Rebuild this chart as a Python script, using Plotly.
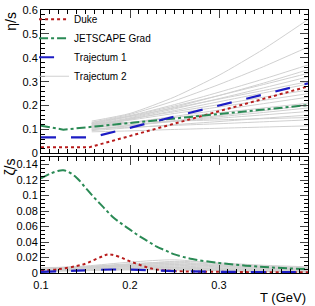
import plotly.graph_objects as go

# ---------------- data ----------------
# top panel: eta/s
duke_eta_T = [0.1, 0.154, 0.4]
duke_eta = [0.025, 0.025, 0.28]
jet_eta_T = [0.1, 0.125, 0.4]
jet_eta = [0.116, 0.099, 0.202]
traj1_eta_T = [0.1, 0.157, 0.4]
traj1_eta = [0.067, 0.067, 0.293]

traj2_eta_T = [0.157, 0.2, 0.25, 0.3, 0.35, 0.4]
traj2_eta = [
    [0.135, 0.167, 0.236, 0.327, 0.436, 0.56],
    [0.130, 0.163, 0.220, 0.288, 0.363, 0.445],
    [0.128, 0.158, 0.204, 0.256, 0.311, 0.370],
    [0.120, 0.149, 0.193, 0.242, 0.294, 0.350],
    [0.125, 0.156, 0.198, 0.242, 0.288, 0.335],
    [0.115, 0.146, 0.186, 0.229, 0.274, 0.320],
    [0.110, 0.142, 0.179, 0.216, 0.253, 0.290],
    [0.118, 0.144, 0.174, 0.204, 0.235, 0.265],
    [0.105, 0.128, 0.155, 0.181, 0.208, 0.235],
    [0.112, 0.129, 0.150, 0.170, 0.190, 0.210],
    [0.100, 0.116, 0.134, 0.153, 0.171, 0.190],
    [0.108, 0.120, 0.134, 0.147, 0.161, 0.175],
    [0.095, 0.107, 0.120, 0.133, 0.147, 0.160],
    [0.102, 0.109, 0.117, 0.124, 0.132, 0.140],
    [0.090, 0.094, 0.100, 0.105, 0.110, 0.115],
    [0.122, 0.154, 0.190, 0.227, 0.263, 0.300],
    [0.115, 0.139, 0.167, 0.194, 0.222, 0.250],
    [0.098, 0.116, 0.137, 0.158, 0.179, 0.200],
    [0.125, 0.130, 0.135, 0.140, 0.145, 0.150],
]

# bottom panel: zeta/s
duke_zeta_T = [0.1, 0.12, 0.14, 0.15, 0.16, 0.17, 0.175, 0.18, 0.19, 0.2, 0.21,
               0.22, 0.23, 0.25, 0.3, 0.35, 0.4]
duke_zeta = [0.003, 0.005, 0.009, 0.012, 0.017, 0.022, 0.024, 0.0235, 0.02, 0.015,
             0.011, 0.007, 0.0045, 0.0025, 0.0015, 0.001, 0.001]
jet_zeta_T = [0.1, 0.11, 0.12, 0.125, 0.13, 0.14, 0.15, 0.16, 0.17, 0.18, 0.19,
              0.2, 0.21, 0.22, 0.23, 0.24, 0.25, 0.27, 0.3, 0.33, 0.36, 0.4]
jet_zeta = [0.122, 0.128, 0.132, 0.1325, 0.131, 0.123, 0.11, 0.097, 0.085, 0.073,
            0.064, 0.056, 0.048, 0.041, 0.034, 0.029, 0.024, 0.018, 0.013, 0.0095,
            0.007, 0.005]
traj1_zeta_T = [0.1, 0.14, 0.18, 0.21, 0.25, 0.3, 0.4]
traj1_zeta = [0.0015, 0.003, 0.0045, 0.004, 0.0025, 0.0015, 0.001]

traj2_zeta_T = [0.1, 0.15, 0.2, 0.25, 0.3, 0.35, 0.4]
traj2_zeta = [
    [0.006, 0.009, 0.014, 0.017, 0.012, 0.009, 0.007],
    [0.005, 0.008, 0.012, 0.014, 0.011, 0.008, 0.006],
    [0.005, 0.008, 0.011, 0.012, 0.009, 0.007, 0.005],
    [0.004, 0.007, 0.010, 0.010, 0.008, 0.006, 0.005],
    [0.004, 0.006, 0.009, 0.009, 0.007, 0.005, 0.004],
    [0.003, 0.006, 0.008, 0.008, 0.006, 0.005, 0.004],
    [0.003, 0.005, 0.007, 0.007, 0.005, 0.004, 0.003],
    [0.003, 0.005, 0.006, 0.006, 0.005, 0.004, 0.003],
    [0.002, 0.004, 0.005, 0.005, 0.004, 0.003, 0.002],
    [0.002, 0.003, 0.004, 0.004, 0.003, 0.002, 0.002],
    [0.006, 0.008, 0.010, 0.013, 0.010, 0.007, 0.005],
    [0.005, 0.007, 0.009, 0.011, 0.009, 0.006, 0.004],
    [0.004, 0.007, 0.008, 0.007, 0.005, 0.003, 0.002],
    [0.003, 0.004, 0.005, 0.004, 0.003, 0.002, 0.001],
    [0.007, 0.008, 0.011, 0.015, 0.013, 0.010, 0.008],
]

x_ticks = [0.1, 0.2, 0.3, 0.4]

# ---------------- styles ----------------
RED = "#b81c1c"
GREEN = "#2a8a55"
BLUE = "#1c1cc4"
GRAY = "#d0d0d0"
FONT = "Liberation Sans, Arial, sans-serif"

fig = go.Figure()

for i, ys in enumerate(traj2_eta):
    fig.add_trace(go.Scatter(x=traj2_eta_T, y=ys, mode="lines",
                             line=dict(color=GRAY, width=1, shape="spline", smoothing=0.6),
                             name="Trajectum 2", showlegend=(i == 0), legendrank=4,
                             xaxis="x2", yaxis="y2", hoverinfo="skip"))
for ys in traj2_zeta:
    fig.add_trace(go.Scatter(x=traj2_zeta_T, y=ys, mode="lines",
                             line=dict(color=GRAY, width=1, shape="spline", smoothing=0.8),
                             showlegend=False, xaxis="x", yaxis="y", hoverinfo="skip"))

fig.add_trace(go.Scatter(x=duke_eta_T, y=duke_eta, mode="lines", name="Duke",
                         line=dict(color=RED, width=2, dash="dot"), legendrank=1,
                         xaxis="x2", yaxis="y2"))
fig.add_trace(go.Scatter(x=duke_zeta_T, y=duke_zeta, mode="lines", showlegend=False,
                         line=dict(color=RED, width=2, dash="dot", shape="spline"),
                         xaxis="x", yaxis="y"))
fig.add_trace(go.Scatter(x=jet_eta_T, y=jet_eta, mode="lines", name="JETSCAPE Grad",
                         line=dict(color=GREEN, width=2, dash="dashdot"), legendrank=2,
                         xaxis="x2", yaxis="y2"))
fig.add_trace(go.Scatter(x=jet_zeta_T, y=jet_zeta, mode="lines", showlegend=False,
                         line=dict(color=GREEN, width=2, dash="dashdot", shape="spline"),
                         xaxis="x", yaxis="y"))
fig.add_trace(go.Scatter(x=traj1_eta_T, y=traj1_eta, mode="lines", name="Trajectum 1",
                         line=dict(color=BLUE, width=2.2, dash="longdash"), legendrank=3,
                         xaxis="x2", yaxis="y2"))
fig.add_trace(go.Scatter(x=traj1_zeta_T, y=traj1_zeta, mode="lines", showlegend=False,
                         line=dict(color=BLUE, width=2.2, dash="longdash", shape="spline"),
                         xaxis="x", yaxis="y"))

axis_common = dict(showline=True, linecolor="black", linewidth=1, mirror="allticks",
                   ticks="inside", showgrid=False, zeroline=False, automargin=False,
                   tickfont=dict(family=FONT, size=11, color="black"))

fig.update_layout(
    width=315, height=306,
    margin=dict(l=41, r=7, t=5, b=33),
    paper_bgcolor="white", plot_bgcolor="white",
    font=dict(family=FONT, color="black"),
    xaxis=dict(domain=[0, 1], range=[0.1, 0.4], tickvals=x_ticks,
               ticklen=8, anchor="y", ticklabelstandoff=2,
               minor=dict(ticks="inside", dtick=0.01, ticklen=4, tickcolor="black"),
               **axis_common),
    xaxis2=dict(domain=[0, 1], range=[0.1, 0.4], tickvals=x_ticks, showticklabels=False,
                ticklen=8, anchor="y2", matches="x",
                minor=dict(ticks="inside", dtick=0.01, ticklen=4, tickcolor="black"),
                **axis_common),
    yaxis=dict(domain=[0, 0.442], range=[0, 0.15], dtick=0.02, ticklen=8,
               anchor="x",
               minor=dict(ticks="inside", dtick=0.005, ticklen=4, tickcolor="black"),
               **axis_common),
    yaxis2=dict(domain=[0.455, 1], range=[0, 0.6], dtick=0.1, ticklen=8,
                anchor="x2",
                minor=dict(ticks="inside", dtick=0.02, ticklen=4, tickcolor="black"),
                **axis_common),
    legend=dict(x=-0.026, y=1.02, xanchor="left", yanchor="top", bgcolor="rgba(0,0,0,0)",
                font=dict(family=FONT, size=10, color="black"), itemwidth=30,
                tracegroupgap=0, traceorder="normal"),
    annotations=[
        dict(text="η/s", x=-0.115, y=1.0, xref="paper", yref="paper", xanchor="center",
             yanchor="top", textangle=-90, showarrow=False,
             font=dict(family=FONT, size=14, color="black")),
        dict(text="ζ/s", x=-0.115, y=0.442, xref="paper", yref="paper", xanchor="center",
             yanchor="top", textangle=-90, showarrow=False,
             font=dict(family=FONT, size=14, color="black")),
        dict(text="T (GeV)", x=1.0, y=-0.056, xref="paper", yref="paper", xanchor="right",
             yanchor="top", showarrow=False,
             font=dict(family=FONT, size=13, color="black")),
    ],
)

fig.write_html("out.html", config={"displayModeBar": False},
               post_script="document.body.style.margin='0';document.body.style.padding='0';")
